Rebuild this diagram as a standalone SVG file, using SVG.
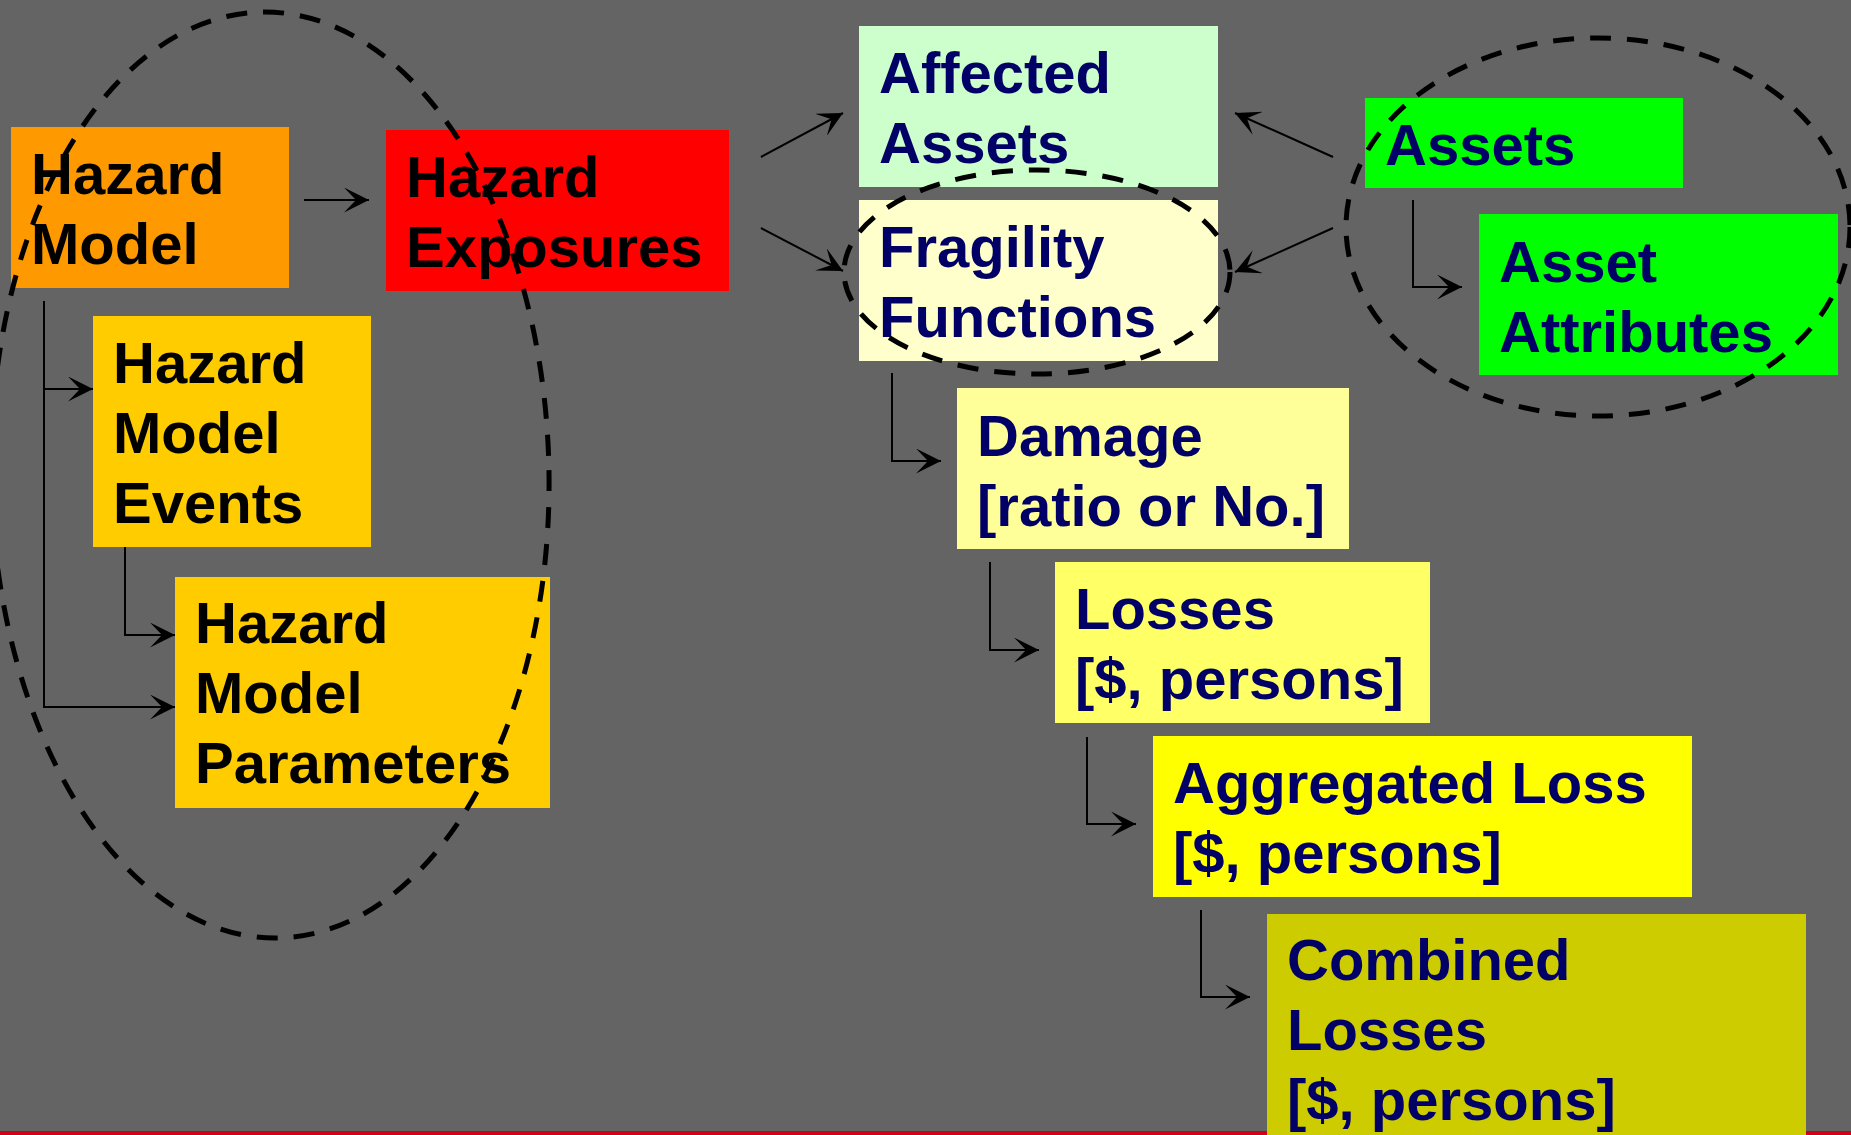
<svg xmlns="http://www.w3.org/2000/svg" width="1851" height="1135" viewBox="0 0 1851 1135">
<defs>
<marker id="arr" viewBox="0 0 25 25" refX="25" refY="12.5" markerWidth="25" markerHeight="25" markerUnits="userSpaceOnUse" orient="auto">
<path d="M0,0 L25,12.5 L0,25 L12,12.5 Z" fill="#000"/>
</marker>
<style>
.t{font-family:"Liberation Sans",Arial,sans-serif;font-weight:bold;font-size:58px}
.k{fill:#000}
.n{fill:#000066}
.c{fill:none;stroke:#000;stroke-width:2;marker-end:url(#arr)}
.e{fill:none;stroke:#000;stroke-width:5;stroke-dasharray:21 16}
</style>
</defs>
<rect x="0" y="0" width="1851" height="1135" fill="#646464"/>
<rect x="0" y="1131" width="1851" height="4" fill="#D00018"/>

<g id="hazard-model"><rect x="11" y="127" width="278" height="161" fill="#FF9900"/>
<text class="t k" x="31" y="194">Hazard</text><text class="t k" x="31" y="264">Model</text></g>
<g id="hazard-exposures"><rect x="386" y="130" width="343" height="161" fill="#FF0000"/>
<text class="t k" x="406" y="197">Hazard</text><text class="t k" x="406" y="267">Exposures</text></g>
<g id="hazard-model-events"><rect x="93" y="316" width="278" height="231" fill="#FFCC00"/>
<text class="t k" x="113" y="383">Hazard</text><text class="t k" x="113" y="453">Model</text><text class="t k" x="113" y="523">Events</text></g>
<g id="hazard-model-parameters"><rect x="175" y="577" width="375" height="231" fill="#FFCC00"/>
<text class="t k" x="195" y="643">Hazard</text><text class="t k" x="195" y="713">Model</text><text class="t k" x="195" y="783">Parameters</text></g>

<g id="affected-assets"><rect x="859" y="26" width="359" height="161" fill="#CCFFCC"/>
<text class="t n" x="879" y="93">Affected</text><text class="t n" x="879" y="163">Assets</text></g>
<g id="fragility-functions"><rect x="859" y="200" width="359" height="161" fill="#FFFFCC"/>
<text class="t n" x="879" y="267">Fragility</text><text class="t n" x="879" y="337">Functions</text></g>
<g id="assets"><rect x="1365" y="98" width="318" height="90" fill="#00FF00"/>
<text class="t n" x="1385" y="165">Assets</text></g>
<g id="asset-attributes"><rect x="1479" y="214" width="359" height="161" fill="#00FF00"/>
<text class="t n" x="1499" y="282">Asset</text><text class="t n" x="1499" y="352">Attributes</text></g>
<g id="damage"><rect x="957" y="388" width="392" height="161" fill="#FFFF99"/>
<text class="t n" x="977" y="456">Damage</text><text class="t n" x="977" y="526">[ratio or No.]</text></g>
<g id="losses"><rect x="1055" y="562" width="375" height="161" fill="#FFFF66"/>
<text class="t n" x="1075" y="629">Losses</text><text class="t n" x="1075" y="699">[$, persons]</text></g>
<g id="aggregated-loss"><rect x="1153" y="736" width="539" height="161" fill="#FFFF00"/>
<text class="t n" x="1173" y="803">Aggregated Loss</text><text class="t n" x="1173" y="873">[$, persons]</text></g>
<g id="combined-losses"><rect x="1267" y="914" width="539" height="231" fill="#CCCC00"/>
<text class="t n" x="1287" y="980">Combined</text><text class="t n" x="1287" y="1050">Losses</text><text class="t n" x="1287" y="1120">[$, persons]</text></g>

<g id="connectors">
<path class="c" d="M304,200 H369"/>
<path class="c" d="M44,389 H93"/>
<path class="c" d="M44,301 V707 H175"/>
<path class="c" d="M125,547 V635 H175"/>
<path class="c" d="M761,157 L843,113"/>
<path class="c" d="M761,228 L843,271"/>
<path class="c" d="M1333,157 L1235,113"/>
<path class="c" d="M1333,228 L1235,272"/>
<path class="c" d="M1413,200 V287 H1462"/>
<path class="c" d="M892,373 V461 H941"/>
<path class="c" d="M990,562 V650 H1039"/>
<path class="c" d="M1087,737 V824 H1136"/>
<path class="c" d="M1201,910 V997 H1250"/>
</g>

<g id="groupings">
<ellipse class="e" cx="270" cy="475" rx="279" ry="463" transform="rotate(-1 270 475)"/>
<ellipse class="e" cx="1037" cy="272" rx="193" ry="102"/>
<ellipse class="e" cx="1598" cy="227" rx="252" ry="189"/>
</g>
</svg>
